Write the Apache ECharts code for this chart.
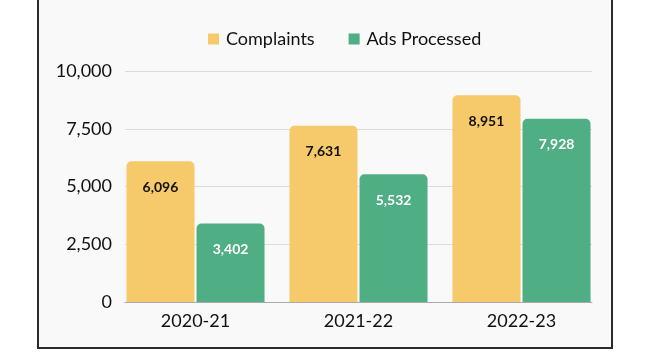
<!DOCTYPE html>
<html><head><meta charset="utf-8">
<script src="https://cdn.jsdelivr.net/npm/echarts@6/dist/echarts.min.js"></script>
<style>html,body{margin:0;padding:0;background:#fff;}#c{width:655px;height:357px;}</style>
</head><body><div id="c"></div>
<script>
const categories = ['2020-21', '2021-22', '2022-23'];
const complaints = [6096, 7631, 8951];
const adsProcessed = [3402, 5532, 7928];
const yTicks = [0, 2500, 5000, 7500, 10000];

const chart = echarts.init(document.getElementById('c'), null, {renderer: 'canvas'});
const font = 'Lato';
chart.setOption({
  animation: false,
  backgroundColor: '#ffffff',
  graphic: [{
    type: 'rect', z: -10, silent: true,
    shape: {x: 38, y: -10, width: 574, height: 358},
    style: {fill: '#f9f9f9', stroke: '#2a2a2a', lineWidth: 2}
  }],
  legend: {
    top: 25, left: 203, itemWidth: 11, itemHeight: 11, itemGap: 34,
    icon: 'rect',
    textStyle: {fontFamily: font, fontSize: 18, color: '#111', padding: [0, 0, 0, 2]},
    data: ['Complaints', 'Ads Processed']
  },
  grid: [
    {left: 125, right: 63, top: 71, bottom: 55},
    {left: 114, right: 52, top: 71, bottom: 55}
  ],
  xAxis: [
    {gridIndex: 0, type: 'category', data: categories,
     axisLine: {show: true, lineStyle: {color: '#aaa', width: 1}},
     axisTick: {show: false}, axisLabel: {show: false}},
    {gridIndex: 1, type: 'category', data: categories,
     axisLine: {show: false}, axisTick: {show: false},
     axisLabel: {fontFamily: font, fontSize: 18, color: '#111', margin: 10}}
  ],
  yAxis: [
    {gridIndex: 0, type: 'value', min: yTicks[0], max: yTicks[yTicks.length - 1], interval: 2500,
     axisLine: {show: false}, axisTick: {show: false},
     splitLine: {lineStyle: {color: '#dcdcdc', width: 1}},
     axisLabel: {fontFamily: font, fontSize: 18, color: '#111', margin: 13,
       formatter: v => v.toLocaleString('en-US')}},
    {gridIndex: 1, type: 'value', min: 0, max: 10000, interval: 2500, show: false,
     splitLine: {show: false}}
  ],
  series: [
    {name: 'Complaints', type: 'bar', xAxisIndex: 1, yAxisIndex: 1, data: complaints,
     barWidth: 68, barGap: '3%',
     itemStyle: {color: '#F6C96B', borderRadius: [5, 5, 0, 0]},
     label: {show: true, position: 'insideTop', distance: 19, fontFamily: font, fontWeight: 'bold',
       fontSize: 14, color: '#111', formatter: p => p.value.toLocaleString('en-US')}},
    {name: 'Ads Processed', type: 'bar', xAxisIndex: 1, yAxisIndex: 1, data: adsProcessed,
     barWidth: 68, barGap: '3%',
     itemStyle: {color: '#4FAE83', borderRadius: [5, 5, 0, 0]},
     label: {show: true, position: 'insideTop', distance: 19, fontFamily: font, fontWeight: 'bold',
       fontSize: 14, color: '#fff', formatter: p => p.value.toLocaleString('en-US')}}
  ]
});
</script></body></html>
